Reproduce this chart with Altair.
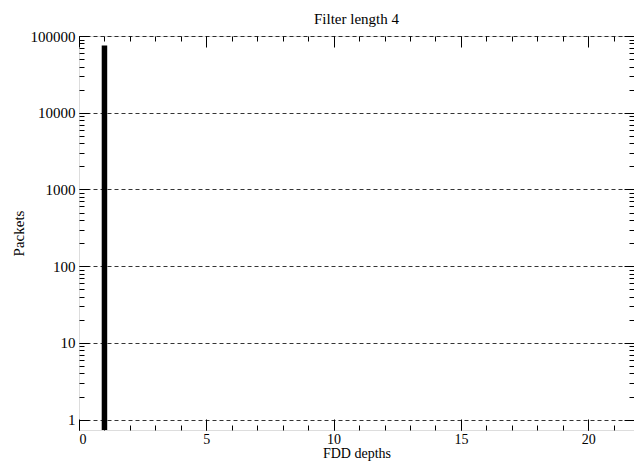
import altair as alt
import pandas as pd

# data
depths = [1]
packets = [75000]

x_major = [0, 5, 10, 15, 20]
x_minor = list(range(0, 22))
y_major = [1, 10, 100, 1000, 10000, 100000]
y_minor = [m * 10 ** e for e in range(0, 5) for m in range(2, 10)]

Y_LOW = 0.733
df = pd.DataFrame({"depth": depths, "packets": packets})

W, H = 555, 394
FONT = "Liberation Serif"
FS = 15
FSX = 14

xscale = alt.Scale(domain=[0, 21.8], nice=False, zero=False, padding=0)
yscale = alt.Scale(type="log", domain=[Y_LOW, 100000], nice=False, padding=0)


def layer(xaxis, yaxis, visible=False):
    mark = alt.Chart(df).mark_rule(
        strokeWidth=5.5, color="black", strokeCap="butt",
        opacity=1 if visible else 0,
    )
    return mark.encode(
        x=alt.X("depth:Q", scale=xscale, axis=xaxis),
        y=alt.Y("packets:Q", scale=yscale, axis=yaxis),
        y2=alt.datum(Y_LOW),
    )


def tick_axis(orient, offset, values, size):
    return alt.Axis(
        orient=orient, offset=offset, values=values, tickSize=size, ticks=True,
        labels=False, domain=False, grid=False, title=None,
        tickColor="black", tickWidth=1,
    )


main = layer(
    alt.Axis(
        orient="bottom", values=x_major, ticks=False, tickSize=0, domain=False,
        grid=False, title="FDD depths", labelPadding=2, titlePadding=0,
        labelFont=FONT, titleFont=FONT, labelFontSize=FSX, titleFontSize=FSX,
        titleFontWeight="normal", labelColor="black", titleColor="black",
    ),
    alt.Axis(
        orient="left", values=y_major, format="d", ticks=False, tickSize=0,
        domain=False, grid=True, gridColor="black", gridDash=[4, 3],
        gridWidth=0.8, gridOpacity=1, title="Packets", labelPadding=4,
        titlePadding=4, labelFont=FONT, titleFont=FONT, labelFontSize=FS,
        titleFontSize=FS, titleFontWeight="normal", labelColor="black",
        titleColor="black",
    ),
    visible=True,
)

l1 = layer(tick_axis("top", -H, x_minor, 5), tick_axis("right", -W, y_minor, 5))
l2 = layer(tick_axis("top", -H, x_major, 11), tick_axis("right", -W, y_major, 10))
l3 = layer(tick_axis("bottom", -H, x_minor, 5), tick_axis("left", -W, y_minor, 5))
l4 = layer(tick_axis("bottom", -H, x_major, 11), tick_axis("left", -W, y_major, 10))

chart = (
    alt.layer(main, l1, l2, l3, l4)
    .resolve_axis(x="independent", y="independent")
    .properties(
        width=W,
        height=H,
        autosize=alt.AutoSizeParams(type="none"),
        padding={"left": 71, "top": 28, "right": 0, "bottom": 32},
        title=alt.TitleParams(
            "Filter length 4", font=FONT, fontSize=FS, fontWeight="normal",
            color="black", offset=2, anchor="middle",
        ),
    )
    .configure_view(stroke="black", strokeWidth=1.2)
    .configure(background="white")
)

chart.save("out.html", embed_options={"renderer": "svg", "actions": False})
